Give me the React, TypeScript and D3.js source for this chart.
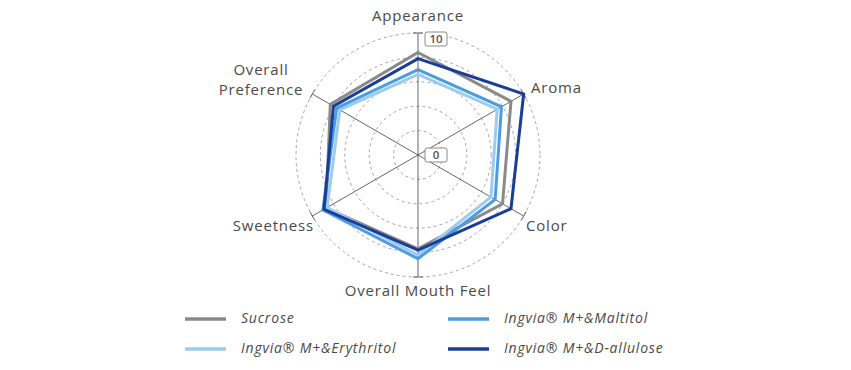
import React, { useRef, useEffect } from 'react';
import * as d3 from 'd3';

const axesLabels = ['Appearance', 'Aroma', 'Color', 'Overall Mouth Feel', 'Sweetness', 'Overall Preference'];

const sucrose = [8.4, 8.8, 8.0, 7.7, 8.7, 8.3];
const erythritol = [6.6, 7.5, 6.9, 8.2, 8.6, 7.4];
const maltitol = [7.0, 7.9, 7.3, 8.5, 9.0, 7.7];
const allulose = [7.9, 10.0, 8.8, 7.8, 8.9, 8.0];

const seriesNames = ['Sucrose', 'Ingvia® M+&Erythritol', 'Ingvia® M+&Maltitol', 'Ingvia® M+&D-allulose'];
const seriesColors = ['#8a8a8a', '#9ccbf0', '#4b9de3', '#1a3d98'];
const seriesValues = [sucrose, erythritol, maltitol, allulose];

const gridLevels = [2, 4, 6, 8, 10];
const tickLabels = ['0', '10'];

const App: React.FC = () => {
    const ref = useRef<SVGSVGElement>(null);

    useEffect(() => {
        document.body.style.margin = '0';
        if (!ref.current) return;
        const svg = d3.select(ref.current);
        svg.selectAll('*').remove();

        const cx = 418, cy = 155;
        const rScale = d3.scaleLinear().domain([0, 10]).range([0, 122]);
        const angleSlice = (Math.PI * 2) / axesLabels.length;
        const font = "'Open Sans', sans-serif";

        const g = svg.append('g').attr('transform', `translate(${cx},${cy})`);

        // dashed grid circles
        g.selectAll('.grid')
            .data(gridLevels)
            .enter()
            .append('circle')
            .attr('r', d => rScale(d))
            .attr('fill', 'none')
            .attr('stroke', '#9a9a9a')
            .attr('stroke-width', 0.9)
            .attr('stroke-dasharray', '3,3');

        // spokes with end ticks
        const pt = (i: number, v: number) => {
            const a = angleSlice * i;
            return [rScale(v) * Math.sin(a), -rScale(v) * Math.cos(a)];
        };
        axesLabels.forEach((_, i) => {
            const [x2, y2] = pt(i, 10);
            g.append('line')
                .attr('x1', 0).attr('y1', 0).attr('x2', x2).attr('y2', y2)
                .attr('stroke', '#555').attr('stroke-width', 0.9);
            const a = angleSlice * i;
            const px = Math.cos(a) * 5, py = Math.sin(a) * 5;
            g.append('line')
                .attr('x1', x2 - px).attr('y1', y2 - py)
                .attr('x2', x2 + px).attr('y2', y2 + py)
                .attr('stroke', '#555').attr('stroke-width', 0.9);
        });

        // series polygons
        const radarLine = d3.lineRadial<number>()
            .angle((d, i) => i * angleSlice)
            .radius(d => rScale(d))
            .curve(d3.curveLinearClosed);

        seriesValues.forEach((vals, k) => {
            g.append('path')
                .datum(vals)
                .attr('d', radarLine)
                .attr('fill', 'none')
                .attr('stroke', seriesColors[k])
                .attr('stroke-width', 3)
                .attr('stroke-linejoin', 'miter');
        });

        // scale labels in boxes
        tickLabels.forEach(t => {
            const v = +t;
            const y = -rScale(v) + (v === 10 ? 6 : 0);
            const bx = 7, bw = 22, bh = 14;
            g.append('rect')
                .attr('x', bx).attr('y', y - bh / 2)
                .attr('width', bw).attr('height', bh)
                .attr('rx', 2)
                .attr('fill', '#fff')
                .attr('stroke', '#8a8a8a')
                .attr('stroke-width', 1);
            g.append('text')
                .attr('x', bx + bw / 2).attr('y', y + 0.5)
                .attr('text-anchor', 'middle')
                .attr('dominant-baseline', 'middle')
                .attr('font-family', font)
                .attr('font-size', 11.5)
                .attr('font-weight', 600)
                .attr('fill', '#555')
                .text(t);
        });

        // axis labels
        const labelPos: { x: number; y: number; anchor: string; lines: string[] }[] = [
            { x: 0, y: -138, anchor: 'middle', lines: ['Appearance'] },
            { x: 113, y: -66, anchor: 'start', lines: ['Aroma'] },
            { x: 108, y: 72, anchor: 'start', lines: ['Color'] },
            { x: 0, y: 137, anchor: 'middle', lines: ['Overall Mouth Feel'] },
            { x: -104, y: 72, anchor: 'end', lines: ['Sweetness'] },
            { x: -157, y: -84, anchor: 'middle', lines: ['Overall', 'Preference'] },
        ];
        labelPos.forEach((p, i) => {
            const t = g.append('text')
                .attr('x', p.x).attr('y', p.y)
                .attr('text-anchor', p.anchor)
                .attr('dominant-baseline', 'middle')
                .attr('font-family', font)
                .attr('font-size', 15)
                .attr('letter-spacing', 0.8)
                .attr('fill', '#4a4a4a')
                .attr('data-axis', axesLabels[i]);
            p.lines.forEach((l, j) => {
                t.append('tspan').attr('x', p.x).attr('dy', j === 0 ? 0 : 20).text(l);
            });
        });

        // legend
        const legendPos = [
            { x: 185, y: 319 },
            { x: 185, y: 349 },
            { x: 448, y: 319 },
            { x: 448, y: 349 },
        ];
        seriesNames.forEach((name, k) => {
            const p = legendPos[k];
            svg.append('line')
                .attr('x1', p.x).attr('x2', p.x + 41)
                .attr('y1', p.y).attr('y2', p.y)
                .attr('stroke', seriesColors[k])
                .attr('stroke-width', 3.5);
            svg.append('text')
                .attr('x', p.x + 56).attr('y', p.y)
                .attr('dominant-baseline', 'middle')
                .attr('font-family', font)
                .attr('font-style', 'italic')
                .attr('font-size', 14)
                .attr('letter-spacing', 0.8)
                .attr('fill', '#4a4a4a')
                .text(name);
        });
    }, []);

    return <svg ref={ref} width={851} height={370} style={{ display: 'block', background: '#fff' }} />;
};

export default App;
